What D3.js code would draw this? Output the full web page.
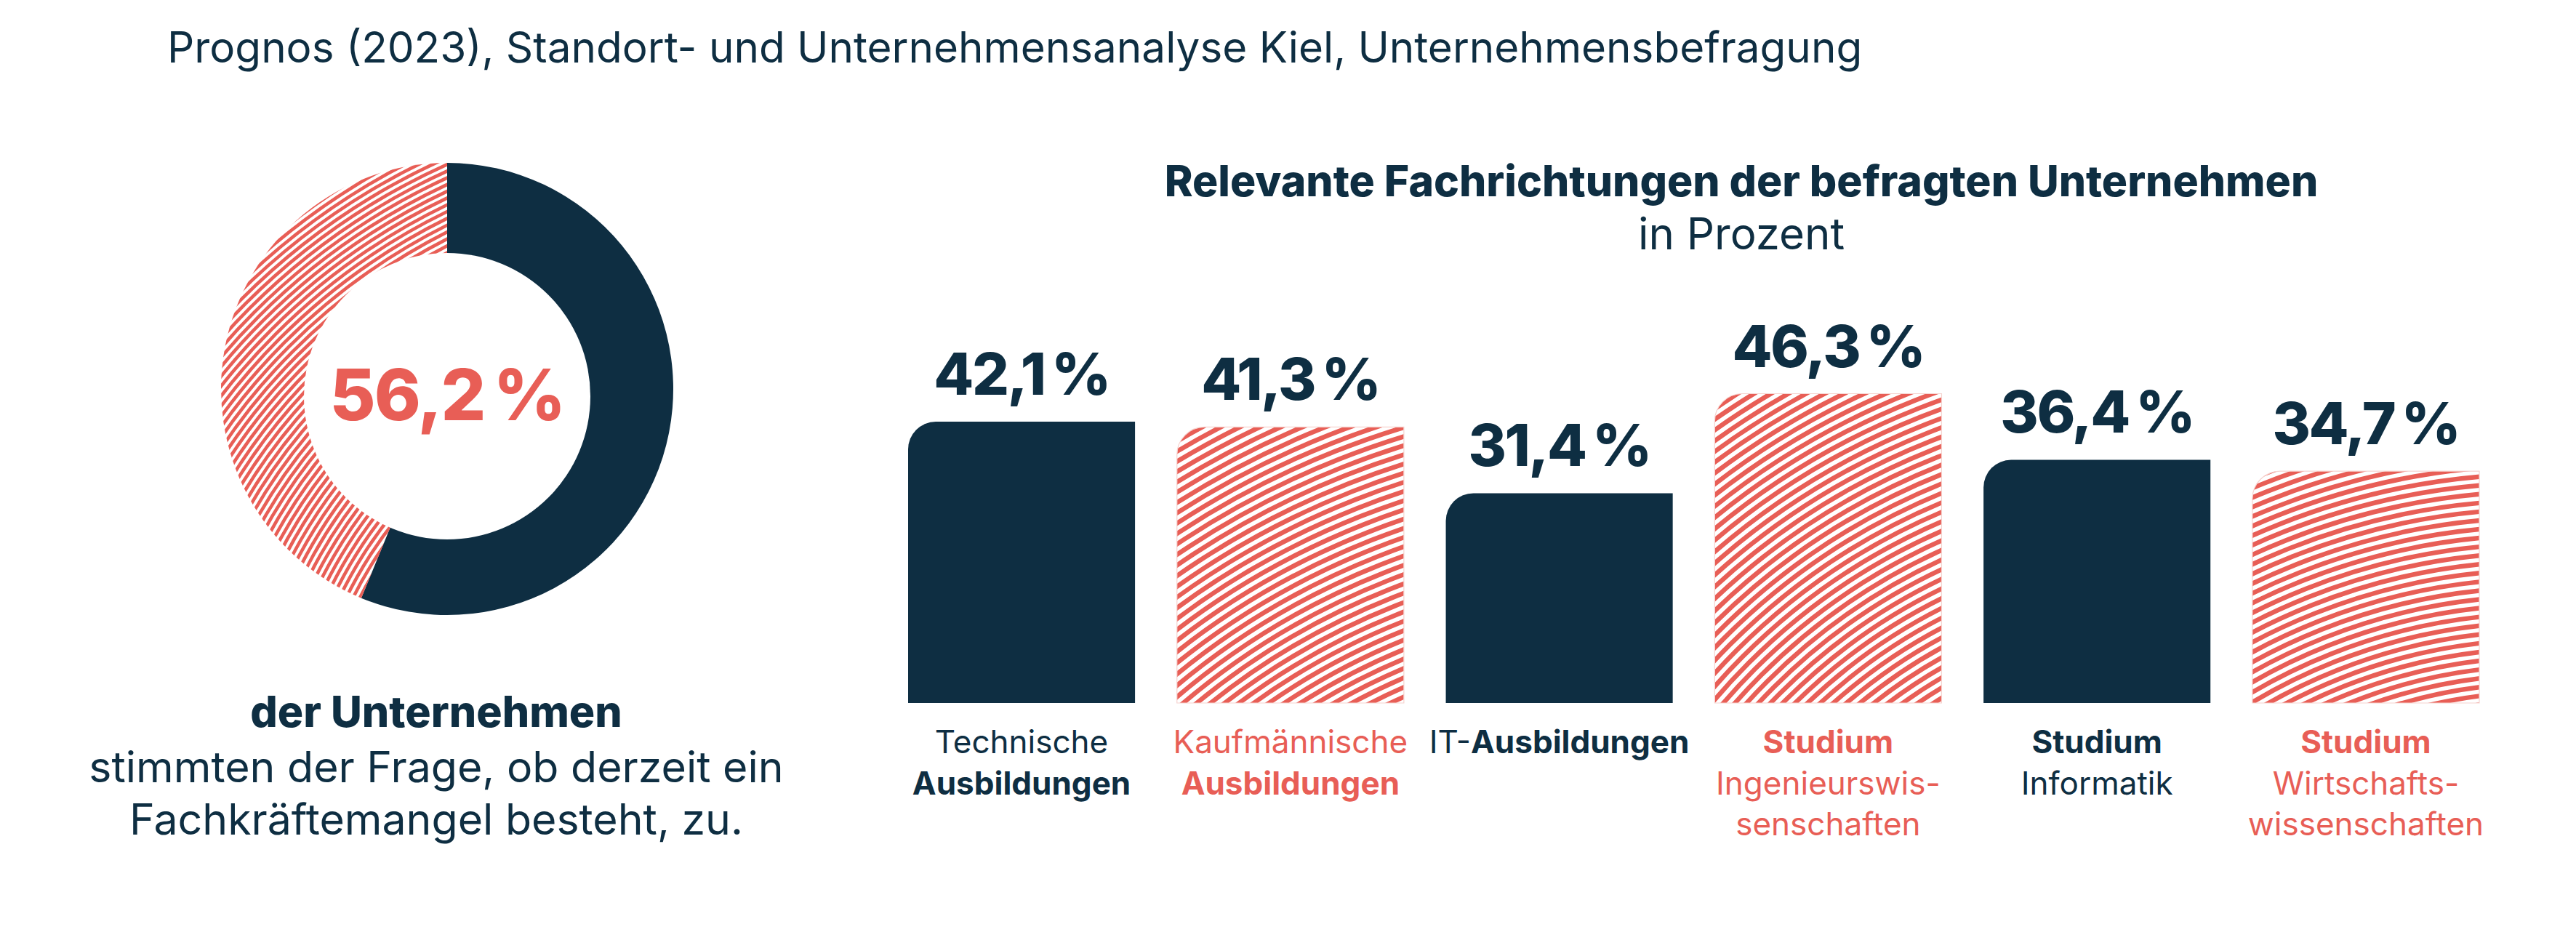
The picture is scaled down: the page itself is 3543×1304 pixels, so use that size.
<!DOCTYPE html>
<html>
<head>
<meta charset="utf-8">
<script src="https://cdn.jsdelivr.net/npm/d3@7"></script>
<style>
  html, body { margin: 0; padding: 0; background: #ffffff; }
  svg { display: block; font-family: Inter, Lato, "Noto Sans", sans-serif; }
</style>
</head>
<body>
<svg id="chart" width="3543" height="1304"></svg>
<script>
// ---------- data ----------
const sourceText = "Prognos (2023), Standort- und Unternehmensanalyse Kiel, Unternehmensbefragung";
const chartTitle = "Relevante Fachrichtungen der befragten Unternehmen";
const chartSubtitle = "in Prozent";

const donutShare = [56.2, 43.8];              // Fachkräftemangel: ja / rest
const donutLabel = "56,2\u2009%";
const donutCaption = [
  [{ t: "der Unternehmen", b: true }],
  [{ t: "stimmten der Frage, ob derzeit ein", b: false }],
  [{ t: "Fachkräftemangel besteht, zu.", b: false }]
];

const categories = [
  "Technische Ausbildungen",
  "Kaufmännische Ausbildungen",
  "IT-Ausbildungen",
  "Studium Ingenieurswissenschaften",
  "Studium Informatik",
  "Studium Wirtschaftswissenschaften"
];
const values = [42.1, 41.3, 31.4, 46.3, 36.4, 34.7];
const hatched = [false, true, false, true, false, true];
const labelLines = [
  [[{ t: "Technische", b: false }], [{ t: "Ausbildungen", b: true }]],
  [[{ t: "Kaufmännische", b: false }], [{ t: "Ausbildungen", b: true }]],
  [[{ t: "IT-", b: false }, { t: "Ausbildungen", b: true }]],
  [[{ t: "Studium", b: true }], [{ t: "Ingenieurswis-", b: false }], [{ t: "senschaften", b: false }]],
  [[{ t: "Studium", b: true }], [{ t: "Informatik", b: false }]],
  [[{ t: "Studium", b: true }], [{ t: "Wirtschafts-", b: false }], [{ t: "wissenschaften", b: false }]]
];

// ---------- style ----------
const NAVY = "#0e2e42";
const RED = "#e85e56";
const svg = d3.select("#chart");
svg.append("rect").attr("width", 3543).attr("height", 1304).attr("fill", "#fff");
const defs = svg.append("defs");

const fmt = d3.formatLocale({ decimal: ",", thousands: ".", grouping: [3], currency: ["", "€"] }).format(".1f");

// concentric-circle stripe texture clipped to a shape
function hatch(parent, id, pathD, cx, cy, period, sw) {
  defs.append("clipPath").attr("id", id).append("path").attr("d", pathD);
  const g = parent.append("g").attr("clip-path", `url(#${id})`);
  const radii = d3.range(period / 2, 2600, period);
  g.selectAll("circle").data(radii).join("circle")
    .attr("cx", cx).attr("cy", cy).attr("r", d => d)
    .attr("fill", "none").attr("stroke", RED).attr("stroke-width", sw);
  return g;
}

// ---------- source line ----------
svg.append("text").attr("x", 230).attr("y", 86)
  .attr("font-size", 58.4).attr("fill", NAVY).text(sourceText);

// ---------- donut ----------
const dcx = 615, dcy = 535, R = 311;
const donutG = svg.append("g").attr("transform", `translate(${dcx},${dcy})`);
const pie = d3.pie().sort(null).value(d => d);
const arcs = pie(donutShare);
const arcGen = d3.arc().innerRadius(0).outerRadius(R);
donutG.append("path").attr("d", arcGen(arcs[0])).attr("fill", NAVY);
hatch(donutG, "donutHatch", arcGen(arcs[1]), 385, 545, 8.4, 4.6);
// hole
donutG.append("circle").attr("cx", 0).attr("cy", 10).attr("r", 197).attr("fill", "#fff");
donutG.append("text").attr("x", 0).attr("y", 43).attr("text-anchor", "middle")
  .attr("font-size", 97).attr("font-weight", 800).attr("fill", RED)
  .attr("letter-spacing", -2).text(donutLabel);

// caption
const capBase = [1000, 1076, 1148];
const capSize = [59, 59, 59];
donutCaption.forEach((line, i) => {
  const t = svg.append("text").attr("x", 600).attr("y", capBase[i]).attr("text-anchor", "middle")
    .attr("font-size", capSize[i]).attr("fill", NAVY);
  line.forEach(s => t.append("tspan").attr("font-weight", s.b ? 800 : 400).text(s.t));
});

// ---------- bar chart ----------
svg.append("text").attr("x", 2395).attr("y", 270).attr("text-anchor", "middle")
  .attr("font-size", 58.8).attr("font-weight", 800).attr("fill", NAVY).text(chartTitle);
svg.append("text").attr("x", 2395).attr("y", 343).attr("text-anchor", "middle")
  .attr("font-size", 60).attr("fill", NAVY).text(chartSubtitle);

const x = d3.scaleBand().domain(categories).range([1249, 3410]).paddingInner(0.156).paddingOuter(0);
const y = d3.scaleLinear().domain([0, 50]).range([967, 967 - 50 * 9.19]);
const rc = 38;

function barPath(x0, x1, top, base) {
  const r = Math.min(rc, x1 - x0, base - top);
  return `M${x0},${base}L${x0},${top + r}A${r},${r} 0 0 1 ${x0 + r},${top}L${x1},${top}L${x1},${base}Z`;
}

const barsG = svg.append("g");
categories.forEach((c, i) => {
  const x0 = x(c), x1 = x(c) + x.bandwidth(), top = y(values[i]), base = y(0);
  const d = barPath(x0, x1, top, base);
  if (hatched[i]) {
    const hc = [null, [345, 764], null, [350, 560], null, [86, 663]][i];
    hatch(barsG, "barHatch" + i, d, x1 + hc[0], base + hc[1], 12, 6.4);
    barsG.append("path").attr("d", d).attr("fill", "none").attr("stroke", "#f6d3cf").attr("stroke-width", 1.2);
  } else {
    barsG.append("path").attr("d", d).attr("fill", NAVY);
  }
  const cxm = x0 + x.bandwidth() / 2;
  svg.append("text").attr("x", cxm).attr("y", top - 37).attr("text-anchor", "middle")
    .attr("font-size", 80).attr("font-weight", 800).attr("fill", NAVY)
    .attr("letter-spacing", -2.5)
    .text(fmt(values[i]) + "\u2009%");
  const col = hatched[i] ? RED : NAVY;
  labelLines[i].forEach((line, j) => {
    const t = svg.append("text").attr("x", cxm).attr("y", 1036 + j * 56.5).attr("text-anchor", "middle")
      .attr("font-size", 44).attr("fill", col);
    line.forEach(s => t.append("tspan").attr("font-weight", s.b ? 700 : 400).text(s.t));
  });
});
</script>
</body>
</html>
